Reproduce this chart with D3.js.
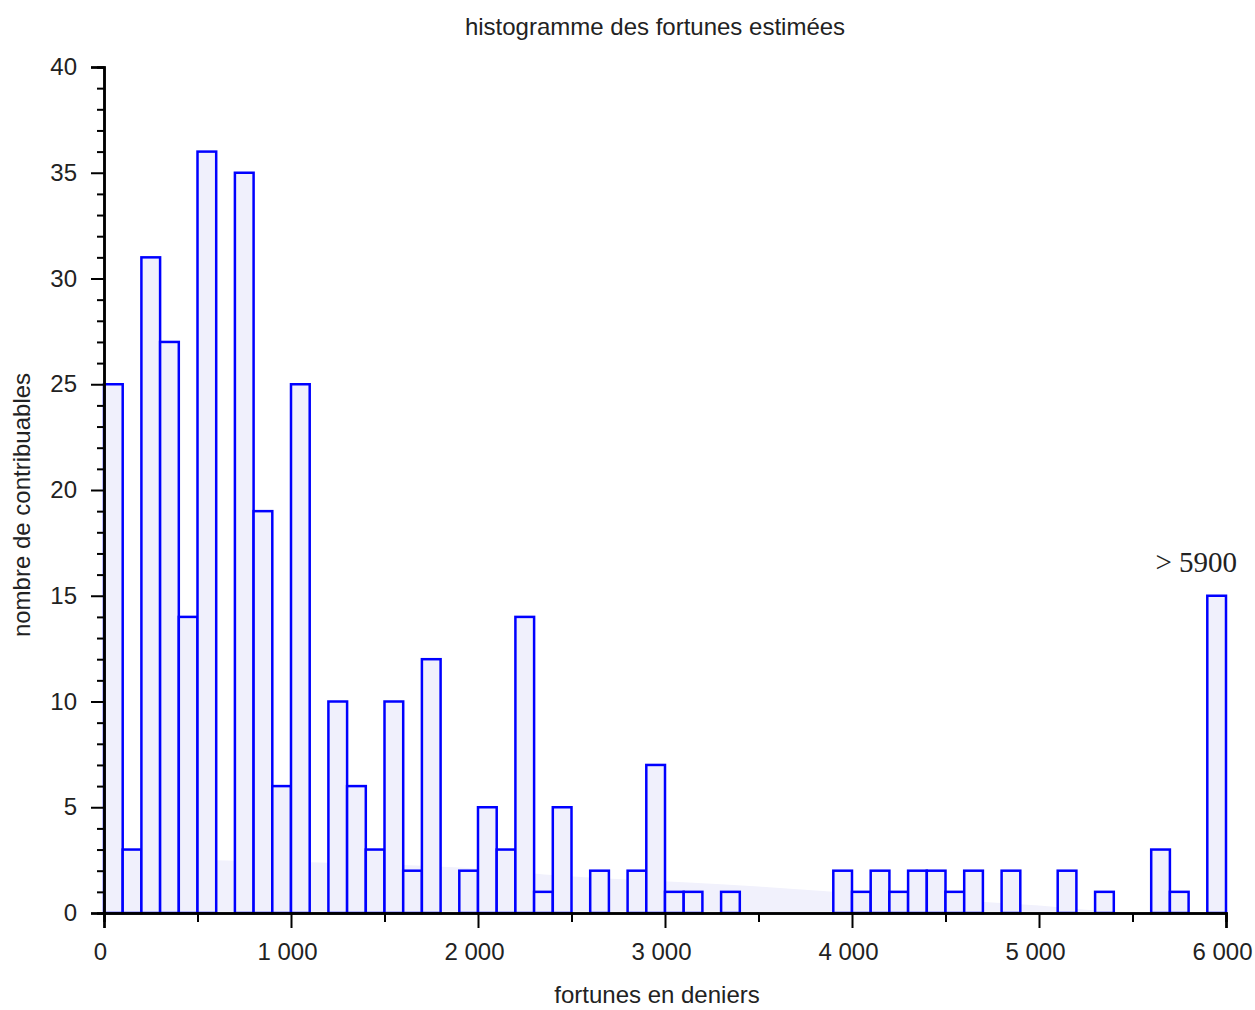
<!DOCTYPE html>
<html>
<head>
<meta charset="utf-8">
<script src="https://cdn.jsdelivr.net/npm/d3@7"></script>
<style>
body{margin:0;background:#fff}
</style>
</head>
<body>
<svg id="chart"></svg>
<script>
const width=1255
const height=1010
const margin={top:67,right:29,bottom:97,left:104}

// effectifs par tranche de 100 deniers (la derniere = > 5900)
const binWidth=100
const counts=[25,3,31,27,14,36,0,35,19,6,
  25,0,10,6,3,10,2,12,0,2,
  5,3,14,1,5,0,2,0,2,7,
  1,1,0,1,0,0,0,0,0,2,
  1,2,1,2,2,1,2,0,2,0,
  0,2,0,1,0,0,3,1,0,15]
const binStarts=d3.range(0,6000,binWidth)

// courbe de fond (lissage)
const densX=[0,600,1100,1900,2550,3100,3500,3900,4750,5000,5250,5600]
const densY=[2.6,2.5,2.4,2.15,1.7,1.45,1.25,1.0,0.5,0.35,0.15,0]

const xTicks=[0,1000,2000,3000,4000,5000,6000]
const yTicks=[0,5,10,15,20,25,30,35,40]

const fr=d3.formatLocale({decimal:',',thousands:' ',grouping:[3],currency:['','']})
const fmt=fr.format(',d')

const svg=d3.select('#chart').attr('width',width).attr('height',height)

const x=d3.scaleLinear().domain([0,6000]).range([margin.left,width-margin.right])
const y=d3.scaleLinear().domain([0,40]).range([height-margin.bottom,margin.top])

// zone de fond
const area=d3.area()
  .x((d,i)=>x(densX[i]))
  .y0(y(0))
  .y1(d=>y(d))
  .curve(d3.curveMonotoneX)
svg.append('path').attr('d',area(densY)).attr('fill','#f1f1fc')

// barres
const bins=binStarts.map((s,i)=>({x0:s,x1:s+binWidth,n:counts[i]})).filter(d=>d.n>0)
svg.append('g').selectAll('rect')
  .data(bins)
  .enter()
  .append('rect')
  .attr('x',d=>x(d.x0))
  .attr('y',d=>y(d.n))
  .attr('width',d=>x(d.x1)-x(d.x0))
  .attr('height',d=>y(0)-y(d.n))
  .attr('fill','#f0f0fc')
  .attr('stroke','#0000ff')
  .attr('stroke-width',2.5)

// axe x
const xAxis=svg.append('g').attr('transform',`translate(0,${y(0)})`)
xAxis.append('g').call(d3.axisBottom(x).tickValues(d3.range(500,6000,1000)).tickSize(9).tickFormat(''))
xAxis.append('g').call(d3.axisBottom(x).tickValues(xTicks).tickSize(15).tickPadding(15).tickFormat(fmt))
xAxis.selectAll('.domain').attr('stroke','#000').attr('stroke-width',2.5)
xAxis.selectAll('.tick line').attr('stroke','#000').attr('stroke-width',2)
xAxis.selectAll('text').attr('dx',-4).attr('font-family','Liberation Sans, Arial, sans-serif').attr('font-size',24).attr('fill','#222')

// axe y
const yAxis=svg.append('g').attr('transform',`translate(${x(0)},0)`)
yAxis.append('g').call(d3.axisLeft(y).tickValues(d3.range(0,41,1).filter(v=>v%5)).tickSize(7).tickFormat(''))
yAxis.append('g').call(d3.axisLeft(y).tickValues(yTicks).tickSize(13).tickPadding(14))
yAxis.selectAll('.domain').attr('stroke','#000').attr('stroke-width',2.5)
yAxis.selectAll('.tick line').attr('stroke','#000').attr('stroke-width',2)
yAxis.selectAll('text').attr('font-family','Liberation Sans, Arial, sans-serif').attr('font-size',24).attr('fill','#222')

// titres
svg.append('text').text('histogramme des fortunes estimées')
  .attr('x',655).attr('y',35)
  .attr('text-anchor','middle')
  .attr('font-family','Liberation Sans, Arial, sans-serif').attr('font-size',24).attr('fill','#222')

svg.append('text').text('fortunes en deniers')
  .attr('x',657).attr('y',1003)
  .attr('text-anchor','middle')
  .attr('font-family','Liberation Sans, Arial, sans-serif').attr('font-size',24).attr('fill','#222')

svg.append('text').text('nombre de contribuables')
  .attr('transform','translate(30,505) rotate(-90)')
  .attr('text-anchor','middle')
  .attr('font-family','Liberation Sans, Arial, sans-serif').attr('font-size',24).attr('fill','#222')

svg.append('text').text('> 5900')
  .attr('x',x(6000)+11).attr('y',y(15)-24)
  .attr('text-anchor','end')
  .attr('font-family','Liberation Serif, Times New Roman, serif').attr('font-size',29).attr('fill','#222')
</script>
</body>
</html>
